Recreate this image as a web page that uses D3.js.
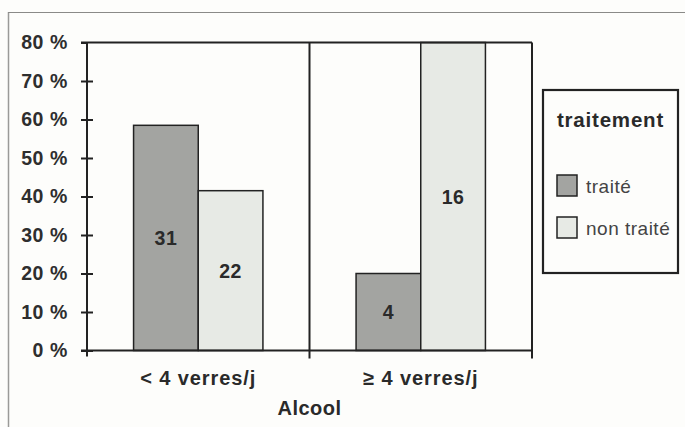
<!DOCTYPE html>
<html><head><meta charset="utf-8">
<script src="https://cdn.jsdelivr.net/npm/d3@7/dist/d3.min.js"></script>
<style>
html,body{margin:0;padding:0;background:#fdfdfb;}
svg{display:block;font-family:"Liberation Sans",Arial,Helvetica,sans-serif;}
</style></head>
<body><svg id="c" width="685" height="427"></svg>
<script>
const categories = ["< 4 verres/j", "\u2265 4 verres/j"];
const seriesNames = ["traité", "non traité"];
const countsTraite = [31, 4];
const countsNonTraite = [22, 16];
const yTicks = [0, 0.1, 0.2, 0.3, 0.4, 0.5, 0.6, 0.7, 0.8];
const xTitle = "Alcool";
const legendTitle = "traitement";
const colors = ["#a3a4a1", "#e7eae5"];

const svg = d3.select("#c");
const pLeft = 87, pRight = 532, pTop = 42.5, pBottom = 350.5;

// frame of the figure
svg.append("line").attr("x1", 8.5).attr("x2", 8.5).attr("y1", 12).attr("y2", 427).attr("stroke", "#9a9a98").attr("stroke-width", 1.5);
svg.append("line").attr("x1", 8).attr("x2", 685).attr("y1", 12.5).attr("y2", 12.5).attr("stroke", "#8a8a88").attr("stroke-width", 1.2);

const rows = categories.map((c, i) => {
  const tot = countsTraite[i] + countsNonTraite[i];
  return {cat: c, vals: [
    {s: seriesNames[0], n: countsTraite[i], p: countsTraite[i] / tot},
    {s: seriesNames[1], n: countsNonTraite[i], p: countsNonTraite[i] / tot}
  ]};
});

const y = d3.scaleLinear().domain([0, 0.8]).range([pBottom, pTop]);
const x0 = d3.scaleBand().domain(categories).range([pLeft, pRight]).padding(0);
const x1 = d3.scaleBand().domain(seriesNames).range([0, x0.bandwidth()]).paddingInner(0).paddingOuter(0.72);
const color = d3.scaleOrdinal().domain(seriesNames).range(colors);

const ink = "#222";

// bars
const g = svg.append("g");
const grp = g.selectAll("g.cat").data(rows).join("g").attr("transform", d => `translate(${x0(d.cat)},0)`);
grp.selectAll("rect").data(d => d.vals).join("rect")
  .attr("x", d => x1(d.s)).attr("width", x1.bandwidth())
  .attr("y", d => y(d.p)).attr("height", d => y(0) - y(d.p))
  .attr("fill", d => color(d.s)).attr("stroke", ink).attr("stroke-width", 1.5);
grp.selectAll("text").data(d => d.vals).join("text")
  .attr("x", d => x1(d.s) + x1.bandwidth() / 2)
  .attr("y", d => (y(d.p) + y(0)) / 2 + 7)
  .attr("text-anchor", "middle").attr("font-weight", "bold").attr("font-size", 19.5)
  .attr("letter-spacing", 0.5)
  .attr("fill", "#2a2a2a").text(d => d.n);

// plot frame: top, right, divider
svg.append("line").attr("x1", pLeft - 6).attr("x2", pRight).attr("y1", pTop).attr("y2", pTop).attr("stroke", ink).attr("stroke-width", 2);
const bounds = categories.map(c => x0(c)).concat([pRight]);
svg.selectAll("line.div").data(bounds.slice(1)).join("line").attr("class", "div")
  .attr("x1", d => d).attr("x2", d => d).attr("y1", pTop).attr("y2", pBottom + 8)
  .attr("stroke", ink).attr("stroke-width", 2);

// y axis
const yAxis = d3.axisLeft(y).tickValues(yTicks).tickFormat(d => Math.round(d * 100) + " %").tickSize(6).tickPadding(13);
const ya = svg.append("g").attr("transform", `translate(${pLeft},0)`).call(yAxis);
ya.select(".domain").attr("stroke", ink).attr("stroke-width", 2).attr("d", `M0,${pTop}V${pBottom + 6}`);
ya.selectAll(".tick line").attr("stroke", ink).attr("stroke-width", 2).attr("x1", d => d === 0.8 ? 0 : 6).attr("x2", -6);
ya.selectAll(".tick text").attr("font-size", 19.5).attr("font-weight", "bold").attr("fill", "#2e2e2e")
  .attr("letter-spacing", 0.6).attr("font-family", "Liberation Sans, Arial, sans-serif");

// x axis baseline
svg.append("line").attr("x1", pLeft - 6).attr("x2", pRight).attr("y1", pBottom).attr("y2", pBottom).attr("stroke", ink).attr("stroke-width", 2);

// category labels
svg.selectAll("text.cat").data(categories).join("text").attr("class", "cat")
  .attr("x", d => x0(d) + x0.bandwidth() / 2).attr("y", 385)
  .attr("text-anchor", "middle").attr("font-weight", "bold").attr("font-size", 20)
  .attr("letter-spacing", 0.9)
  .attr("fill", "#2a2a2a").text(d => d);
svg.append("text").attr("x", (pLeft + pRight) / 2).attr("y", 415).attr("text-anchor", "middle")
  .attr("font-weight", "bold").attr("font-size", 20).attr("letter-spacing", 0.5).attr("fill", "#2a2a2a").text(xTitle);

// legend
const lg = svg.append("g");
lg.append("rect").attr("x", 543).attr("y", 90).attr("width", 135).attr("height", 183)
  .attr("fill", "#fdfdfb").attr("stroke", ink).attr("stroke-width", 2.2);
lg.append("text").attr("x", 610.5).attr("y", 127).attr("text-anchor", "middle").attr("font-weight", "bold")
  .attr("font-size", 20.5).attr("letter-spacing", 0.8).attr("fill", "#2a2a2a").text(legendTitle);
const li = lg.selectAll("g.li").data(seriesNames).join("g").attr("class", "li")
  .attr("transform", (d, i) => `translate(557,${175 + i * 42})`);
li.append("rect").attr("width", 20).attr("height", 21).attr("fill", d => color(d)).attr("stroke", ink).attr("stroke-width", 1.5);
li.append("text").attr("x", 29).attr("y", 18).attr("font-size", 19).attr("letter-spacing", 0.5).attr("fill", "#444").text(d => d);
</script></body></html>
